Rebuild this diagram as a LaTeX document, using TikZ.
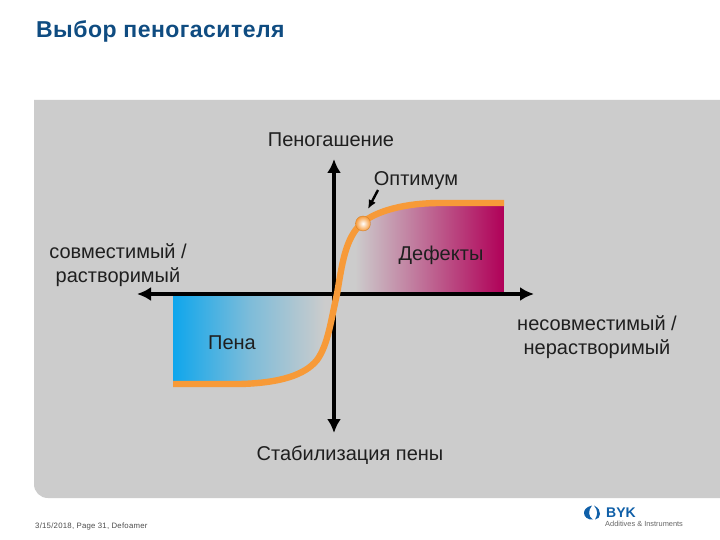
\documentclass[tikz,border=0pt]{standalone}
\usepackage{fontspec}
\setmainfont{Liberation Sans}
\newfontfamily\titlefont[LetterSpace=2,BoldFont={Liberation Sans Bold}]{Liberation Sans}
\newfontfamily\footfont[LetterSpace=3]{Liberation Sans}
\definecolor{panel}{HTML}{CCCCCC}
\definecolor{titleblue}{HTML}{0F4C81}
\definecolor{curveor}{HTML}{F79A38}
\definecolor{foamblue}{HTML}{0FA6EC}
\definecolor{defred}{HTML}{B00058}
\definecolor{bykblue}{HTML}{0F5FA8}
\usetikzlibrary{arrows.meta}
\tikzset{
  lbl/.style={font=\fontsize{20}{24}\selectfont, text=black!88, inner sep=0pt, align=center},
  axisline/.style={line width=3.4pt, black, {Latex[length=14pt,width=14pt]}-{Latex[length=14pt,width=14pt]}},
  curveline/.style={line width=6.4pt, curveor},
}
\begin{document}
\begin{tikzpicture}[x=1pt,y=-1pt]
\useasboundingbox (0,0) rectangle (720,540);
\fill[white] (0,0) rectangle (720,540);
% panel
\fill[panel] (34,100) -- (720,100) -- (720,498) -- (48,498) .. controls (40,498) and (34,492) .. (34,484) -- cycle;
% shaded regions
\begin{scope}
\clip (173,296) -- (173,385) -- (240,384) .. controls (280,383) and (305,375) .. (317,360) .. controls (328,345) and (331,320) .. (335,296) -- cycle;
\shade[left color=foamblue, right color=panel, middle color=foamblue!42!panel] (173,296) rectangle (325,386);
\end{scope}
\begin{scope}
\clip (504,292) -- (504,203) -- (440,203) .. controls (405,204) and (378,210) .. (362,223) .. controls (350,233) and (344,260) .. (339,292) -- cycle;
\shade[left color=panel, right color=defred] (355,200) rectangle (504,292);
\end{scope}
% axes
\coordinate (xl) at (137,294);
\coordinate (xr) at (534,294);
\coordinate (yt) at (334,159);
\coordinate (yb) at (334,433);
\draw[axisline] (xl) -- (xr);
\draw[axisline] (yb) -- (yt);
% curve
\coordinate (cs) at (173,384);
\coordinate (ce) at (504,203);
\draw[curveline] (cs) -- (240,384) .. controls (280,383) and (305,375) .. (317,360) .. controls (328,345) and (331,320) .. (337,294) .. controls (342,265) and (345,238) .. (362,223) .. controls (376,211) and (405,203) .. (440,203) -- (ce);
% optimum marker
\shade[inner color=white, outer color=curveor, draw=curveor!85!black, line width=0.4pt] (363,223.5) circle (7.5);
\coordinate (opt) at (368,209);
% labels
\node[lbl] (t1) at (331,140) {Пеногашение};
\node[lbl] (t2) at (416,181) {Оптимум};
\node[lbl] (t3) at (441,255) {Дефекты};
\node[lbl] (t4) at (118,265) {совместимый /\\растворимый};
\node[lbl] (t5) at (232,343) {Пена};
\node[lbl] (t6) at (597,337.5) {несовместимый /\\нерастворимый};
\node[lbl] (t7) at (350,455) {Стабилизация пены};
\draw[line width=2.4pt, black, -{Latex[length=9pt,width=8pt]}] (378,190) -- (opt);
% title
\node[inner sep=0pt, anchor=west, font=\fontsize{23}{26}\titlefont\bfseries, text=titleblue] (title) at (36,31) {Выбор пеногасителя};
% footer
\node[inner sep=0pt, anchor=west, font=\fontsize{7.8}{9}\footfont, text=black!70] (foot) at (35,526) {3/15/2018, Page 31, Defoamer};
% logo
\fill[bykblue] (592,505.5) .. controls (586,507) and (584,510) .. (584,513) .. controls (584,517) and (588,520) .. (593,519.5) .. controls (588,517) and (588,510) .. (592,505.5) -- cycle;
\fill[bykblue] (594,505.5) .. controls (599,508) and (600,511) .. (600,514) .. controls (600,517) and (598,519) .. (595,519.5) .. controls (598,515) and (598,510) .. (594,505.5) -- cycle;
\node[inner sep=0pt, anchor=west, font=\fontsize{14}{16}\selectfont\bfseries, text=bykblue] (byk) at (606,512.5) {BYK};
\node[inner sep=0pt, anchor=west, font=\fontsize{7.4}{9}\selectfont, text=black!60] (add) at (605,524) {Additives \& Instruments};
\end{tikzpicture}
\end{document}
